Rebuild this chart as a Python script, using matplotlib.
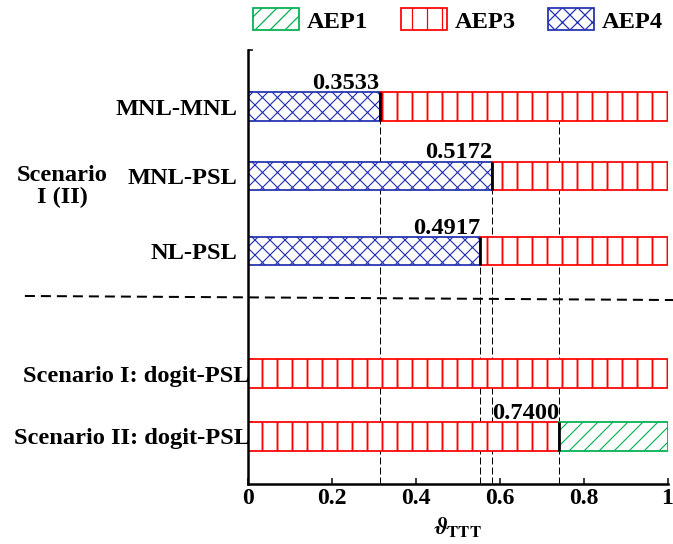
import numpy as np
import matplotlib.pyplot as plt
from matplotlib.patches import Patch
from matplotlib.transforms import ScaledTranslation

plt.rcParams['font.family'] = ['Liberation Serif', 'DejaVu Serif']
plt.rcParams['font.weight'] = 'bold'
plt.rcParams['mathtext.fontset'] = 'stix'
plt.rcParams['hatch.linewidth'] = 1.0

# model combinations, top to bottom
models = ['MNL-MNL', 'MNL-PSL', 'NL-PSL',
          'Scenario I: dogit-PSL', 'Scenario II: dogit-PSL']
# share of each AEP along the theta_TTT axis
aep4 = [0.315, 0.582, 0.554, 0.0, 0.0]
aep3 = [0.685, 0.418, 0.446, 1.0, 0.742]
aep1 = [0.0, 0.0, 0.0, 0.0, 0.258]
split_labels = ['0.3533', '0.5172', '0.4917', '', '0.7400']
# row whose bar bottom each guide line reaches up to
guide_top_row = [0, 1, 2, None, 0]

ypos = np.array([6.0, 4.9, 3.7, 1.75, 0.75])
h = 0.45

red = '#ff0000'
blue = '#2231b0'
green = '#00b050'
fs = 19.5

fig = plt.figure(figsize=(673 / 90, 544 / 90), dpi=90)
ax = fig.add_axes([247.5 / 673, 1 - 483.5 / 544, 420 / 673, 433.5 / 544])

# stacked hatched bars
left = np.zeros(len(models))
for vals, color, hatch, lw in [(aep4, blue, 'xx', 0.9),
                               (aep3, red, '|', 1.5),
                               (aep1, green, '//', 0.9)]:
    vals = np.array(vals)
    m = vals > 0
    bars = ax.barh(ypos[m], vals[m], height=h, left=left[m], color='white',
                   edgecolor=color, hatch=hatch, linewidth=1.4, zorder=2)
    for b in bars:
        if hasattr(b, 'set_hatch_linewidth'):
            b.set_hatch_linewidth(lw)
    left += vals

# split positions, value labels and dashed guides
aep4 = np.array(aep4)
aep3 = np.array(aep3)
aep1 = np.array(aep1)
split = np.where(aep1 > 0, aep4 + aep3, aep4)
for i, s in enumerate(split):
    if s <= 0:
        continue
    y = ypos[i]
    ax.plot([s, s], [y - h / 2, y + h / 2], color='k', lw=2.2, zorder=3,
            solid_capstyle='butt')
    ax.annotate(split_labels[i], (s, y + h / 2), xytext=(0, 2.5),
                textcoords='offset points', ha='right', va='baseline',
                fontsize=fs, fontweight='bold')
    top = ypos[guide_top_row[i]] - h / 2
    ax.vlines(s, 0, top, colors='k', linestyles=(0, (7, 3)), lw=0.8, zorder=1)

# separator between the two groups
ax.plot([-0.53, 1.02], [2.985, 2.92], color='k', lw=1.6,
        ls=(0, (5, 3)), clip_on=False, zorder=1)

ax.set_xlim(0, 1)
ax.set_ylim(0, 6.9)
ax.set_xticks([0, 0.2, 0.4, 0.6, 0.8, 1], ['0', '0.2', '0.4', '0.6', '0.8', '1'])
ax.tick_params(axis='x', direction='in', length=5, width=1.2, pad=4, labelsize=19)
ax.set_yticks(ypos, models)
ax.set_yticks(list(ypos + h / 2) + [6.9], minor=True)
ax.tick_params(axis='y', which='major', length=0, pad=8, labelsize=fs)
ax.tick_params(axis='y', which='minor', direction='in', length=4, width=1.2)
for lab in ax.get_yticklabels()[3:]:
    lab.set_transform(lab.get_transform()
                      + ScaledTranslation(12 / 90, 0, fig.dpi_scale_trans))

for side in ['top', 'right']:
    ax.spines[side].set_visible(False)
for side in ['left', 'bottom']:
    ax.spines[side].set_linewidth(2)

ax.set_xlabel(r'$\vartheta_{\mathrm{TTT}}$', fontsize=19, labelpad=5)

fig.text(62 / 673, 1 - 186.5 / 544, 'Scenario\nI (II)', ha='center',
         va='center', fontsize=fs, fontweight='bold', linespacing=1.0)

handles = [Patch(facecolor='white', edgecolor=green, hatch='//', lw=1.4),
           Patch(facecolor='white', edgecolor=red, hatch='|', lw=1.4),
           Patch(facecolor='white', edgecolor=blue, hatch='xx', lw=1.4)]
fig.legend(handles, ['AEP1', 'AEP3', 'AEP4'], ncol=3, loc='center left',
           bbox_to_anchor=(253 / 673, 1 - 20.5 / 544), frameon=False,
           handlelength=1.89, handleheight=1.02, handletextpad=0.31,
           columnspacing=1.35, borderpad=0, borderaxespad=0,
           prop={'weight': 'bold', 'size': fs})

fig.savefig('out.png', dpi=90)
